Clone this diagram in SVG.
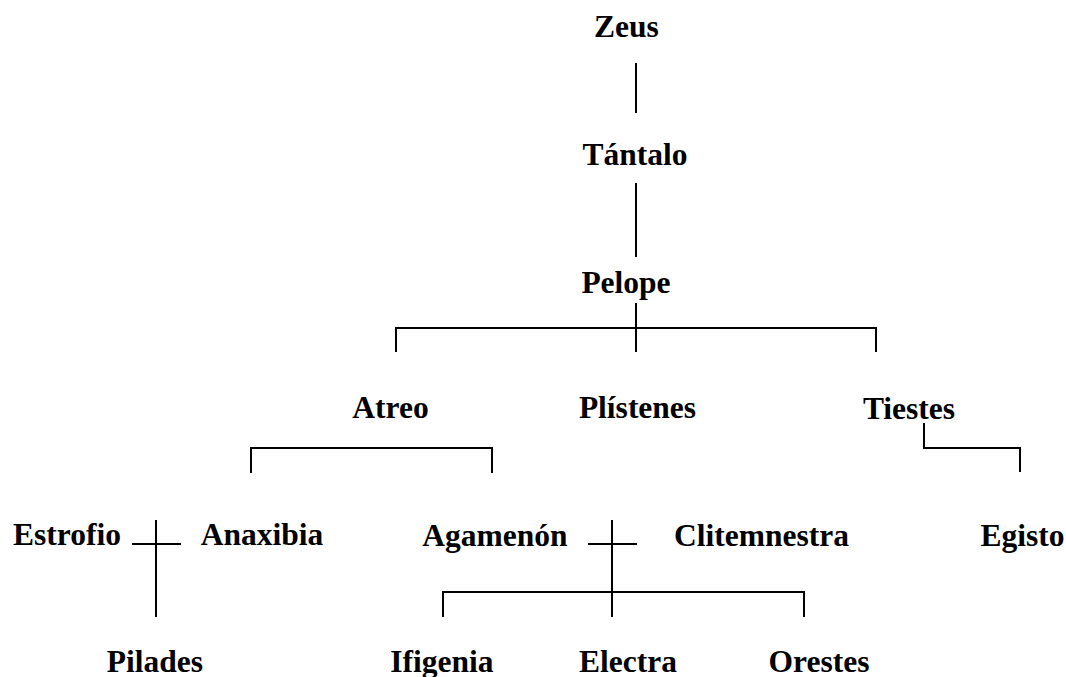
<svg xmlns="http://www.w3.org/2000/svg" width="1066" height="677" viewBox="0 0 1066 677">
<style>
text{font-family:"Liberation Serif","Times New Roman",serif;font-weight:bold;font-size:31.5px;fill:#000;text-anchor:middle}
.c line,.c polyline{stroke:#000;stroke-width:2;fill:none}
</style>
<rect width="1066" height="677" fill="#fff"/>
<g class="c" id="connectors">
<line x1="636" y1="63" x2="636" y2="113"/>
<line x1="636" y1="183" x2="636" y2="257"/>
<line x1="636" y1="303" x2="636" y2="352"/>
<polyline points="396,352 396,328 876,328 876,352"/>
<polyline points="251,473 251,448 492,448 492,473"/>
<polyline points="924,423 924,448 1020,448 1020,472"/>
<line x1="156" y1="520" x2="156" y2="617"/>
<line x1="132" y1="544" x2="181" y2="544"/>
<line x1="612" y1="520" x2="612" y2="617"/>
<line x1="588" y1="544" x2="637" y2="544"/>
<polyline points="443,617 443,592 804,592 804,617"/>
</g>
<g id="zeus"><text x="626.5" y="37">Zeus</text></g>
<g id="tantalo"><text x="635" y="165">Tántalo</text></g>
<g id="pelope"><text x="626" y="293">Pelope</text></g>
<g id="atreo"><text x="390.5" y="418">Atreo</text></g>
<g id="plistenes"><text x="637.5" y="418">Plístenes</text></g>
<g id="tiestes"><text x="909" y="419">Tiestes</text></g>
<g id="estrofio"><text x="67" y="545">Estrofio</text></g>
<g id="anaxibia"><text x="262" y="545">Anaxibia</text></g>
<g id="agamenon"><text x="495" y="546">Agamenón</text></g>
<g id="clitemnestra"><text x="761.5" y="546">Clitemnestra</text></g>
<g id="egisto"><text x="1022.5" y="546">Egisto</text></g>
<g id="pilades"><text x="155" y="672">Pilades</text></g>
<g id="ifigenia"><text x="442" y="672">Ifigenia</text></g>
<g id="electra"><text x="628" y="672">Electra</text></g>
<g id="orestes"><text x="819" y="672">Orestes</text></g>
</svg>
